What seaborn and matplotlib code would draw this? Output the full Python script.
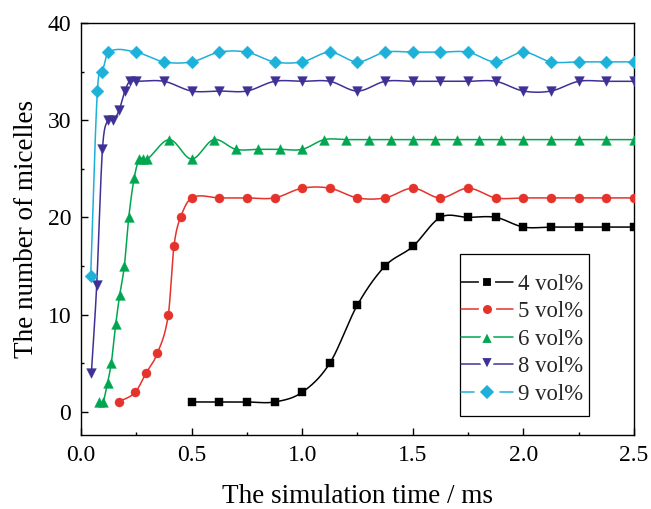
import numpy as np
import pandas as pd
import matplotlib
matplotlib.use("Agg")
import matplotlib.pyplot as plt
from matplotlib.lines import Line2D
from matplotlib.patches import Rectangle
import seaborn as sns

# ---------------- data ----------------
x_4 = [0.5, 0.625, 0.75, 0.875, 1.0, 1.125, 1.25, 1.375, 1.5, 1.625, 1.75, 1.875,
       2.0, 2.125, 2.25, 2.375, 2.5]
y_4 = [1, 1, 1, 1, 2, 5, 11, 15, 17, 20, 20, 20, 19, 19, 19, 19, 19]

x_5 = [0.17, 0.245, 0.295, 0.345, 0.395, 0.42, 0.45, 0.5, 0.625, 0.75, 0.875, 1.0,
       1.125, 1.25, 1.375, 1.5, 1.625, 1.75, 1.875, 2.0, 2.125, 2.25, 2.375, 2.5]
y_5 = [1, 2, 4, 6, 10, 17, 20, 22, 22, 22, 22, 23, 23, 22, 22, 23, 22, 23, 22, 22,
       22, 22, 22, 22]

x_6 = [0.08, 0.1, 0.12, 0.137, 0.157, 0.175, 0.196, 0.216, 0.24, 0.263, 0.281, 0.3,
       0.4, 0.5, 0.6, 0.7, 0.8, 0.9, 1.0, 1.1, 1.2, 1.3, 1.4, 1.5, 1.6, 1.7, 1.8,
       1.9, 2.0, 2.125, 2.25, 2.375, 2.5]
y_6 = [1, 1, 3, 5, 9, 12, 15, 20, 24, 26, 26, 26, 28, 26, 28, 27, 27, 27, 27, 28,
       28, 28, 28, 28, 28, 28, 28, 28, 28, 28, 28, 28, 28]

x_8 = [0.047, 0.071, 0.097, 0.122, 0.146, 0.172, 0.198, 0.22, 0.248, 0.375, 0.5,
       0.625, 0.75, 0.875, 1.0, 1.125, 1.25, 1.375, 1.5, 1.625, 1.75, 1.875, 2.0,
       2.125, 2.25, 2.375, 2.5]
y_8 = [4, 13, 27, 30, 30, 31, 33, 34, 34, 34, 33, 33, 33, 34, 34, 34, 33, 34, 34,
       34, 34, 34, 33, 33, 34, 34, 34]

x_9 = [0.044, 0.074, 0.097, 0.124, 0.248, 0.375, 0.5, 0.625, 0.75, 0.875, 1.0,
       1.125, 1.25, 1.375, 1.5, 1.625, 1.75, 1.875, 2.0, 2.125, 2.25, 2.375, 2.5]
y_9 = [14, 33, 35, 37, 37, 36, 36, 37, 37, 36, 36, 37, 36, 37, 37, 37, 37, 36, 37,
       36, 36, 36, 36]

labels = ["4 vol%", "5 vol%", "6 vol%", "8 vol%", "9 vol%"]
colors = ["#000000", "#e5322a", "#00a650", "#3e3196", "#1db0d8"]
markers = ["s", "o", "^", "v", "D"]
msizes = [6.0, 6.5, 7.0, 7.0, 6.5]
leg_msizes = [9.0, 9.5, 11.5, 11.5, 10.0]

series = [(x_4, y_4), (x_5, y_5), (x_6, y_6), (x_8, y_8), (x_9, y_9)]


def smooth_curve(x, y, n=30):
    """Cubic Hermite (Catmull-Rom style) curve through the given points."""
    x = np.asarray(x, float)
    y = np.asarray(y, float)
    m = np.zeros_like(y)
    m[1:-1] = (y[2:] - y[:-2]) / (x[2:] - x[:-2])
    m[0] = (y[1] - y[0]) / (x[1] - x[0])
    m[-1] = (y[-1] - y[-2]) / (x[-1] - x[-2])
    xs, ys = [], []
    for i in range(len(x) - 1):
        h = x[i + 1] - x[i]
        t = np.linspace(0, 1, n, endpoint=False)
        h00 = 2 * t**3 - 3 * t**2 + 1
        h10 = t**3 - 2 * t**2 + t
        h01 = -2 * t**3 + 3 * t**2
        h11 = t**3 - t**2
        xs.append(x[i] + t * h)
        ys.append(h00 * y[i] + h10 * h * m[i] + h01 * y[i + 1] + h11 * h * m[i + 1])
    xs.append([x[-1]])
    ys.append([y[-1]])
    return np.concatenate(xs), np.concatenate(ys)


# ---------------- style ----------------
sns.set_theme(style="white")
plt.rcParams["font.family"] = ["Liberation Serif", "DejaVu Serif"]

fig = plt.figure(figsize=(6.51, 5.09), dpi=100)
ax = fig.add_axes([0.1244, 0.1448, 0.8495, 0.8100])

for (xv, yv), lab, c, mk, ms in zip(series, labels, colors, markers, msizes):
    xs, ys = smooth_curve(xv, yv)
    sns.lineplot(x=xs, y=ys, color=c, linewidth=1.1, sort=False, estimator=None,
                 ax=ax, legend=False, zorder=2)
    df = pd.DataFrame({"t": xv, "n": yv})
    sns.scatterplot(data=df, x="t", y="n", marker=mk, s=ms ** 2,
                    color=c, edgecolor=c, linewidth=0.3, ax=ax, legend=False,
                    zorder=3)

ax.set_xlim(0, 2.5)
ax.set_ylim(-2.43, 40)
ax.set_xticks([0.0, 0.5, 1.0, 1.5, 2.0, 2.5])
ax.set_xticks([0.25, 0.75, 1.25, 1.75, 2.25], minor=True)
ax.set_yticks([0, 10, 20, 30, 40])
ax.set_yticks([5, 15, 25, 35], minor=True)
ax.set_xticklabels(["0.0", "0.5", "1.0", "1.5", "2.0", "2.5"])

ax.tick_params(axis="both", which="major", direction="in", length=5, width=1,
               labelsize=17, pad=7, color="black", labelcolor="black",
               bottom=True, left=True, top=False, right=False)
ax.tick_params(axis="both", which="minor", direction="in", length=2.5, width=1,
               bottom=True, left=True, top=False, right=False, color="black")

for sp in ax.spines.values():
    sp.set_visible(True)
    sp.set_color("black")
    sp.set_linewidth(1.0)

ax.set_xlabel("The simulation time / ms", fontsize=19.5, color="black", labelpad=13)
ax.set_ylabel("The number of micelles", fontsize=19.5, color="black", labelpad=6)

# legend: frame drawn separately so that padding matches the reference
mew = 3.0
handles = [Line2D([0], [0], color=c, lw=1.1, marker=mk, markersize=lms,
                  markerfacecolor=c, markeredgecolor="white", markeredgewidth=mew)
           for c, mk, lms in zip(colors, markers, leg_msizes)]
leg = ax.legend(handles, labels, loc="upper left", bbox_to_anchor=(0.687, 0.391),
                fontsize=16.4, frameon=False, borderpad=0.0, labelspacing=0.28,
                handlelength=2.3, handletextpad=0.2, borderaxespad=0.0)
ax.add_patch(Rectangle((0.6854, 0.0468), 0.9186 - 0.6854, 0.4397 - 0.0468,
                       transform=ax.transAxes, fill=True, facecolor="white",
                       edgecolor="black", linewidth=0.9, zorder=4))
leg.set_zorder(5)

fig.savefig("out.png", dpi=100)
